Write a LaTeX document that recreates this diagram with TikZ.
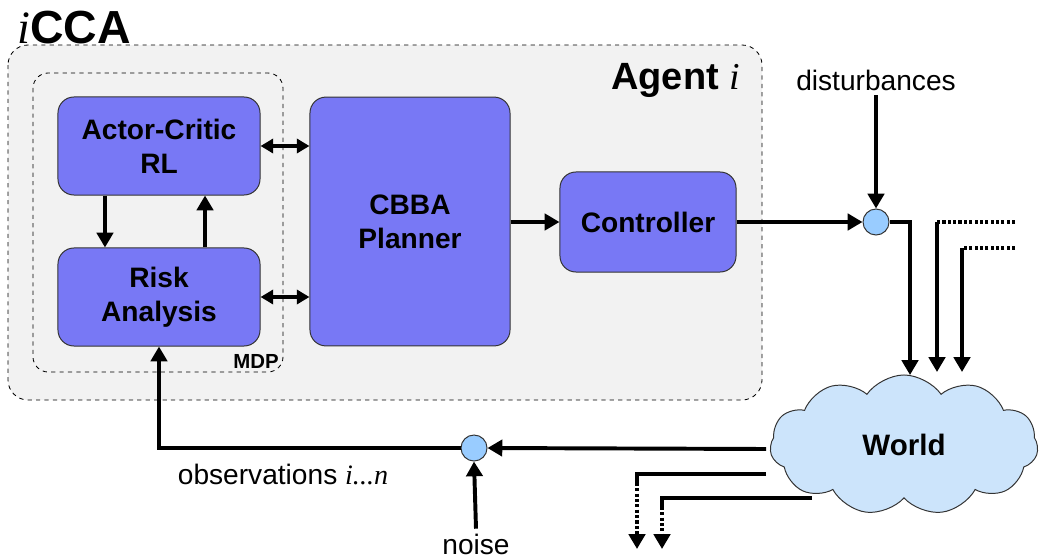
\documentclass[tikz,border=0pt]{standalone}
\usepackage{fontspec}
\setmainfont{Liberation Sans}
\newfontfamily\tms{Liberation Serif}
\usetikzlibrary{arrows.meta,shapes.symbols,calc}
\definecolor{boxblue}{RGB}{120,120,245}
\definecolor{sumblue}{RGB}{153,204,255}
\definecolor{cloudblue}{RGB}{204,228,251}
\definecolor{agentgray}{RGB}{242,242,242}
\tikzset{
  block/.style={draw=black!80,line width=0.7pt,fill=boxblue,rounded corners=0.4cm,
    align=center,font=\fontsize{20}{24}\selectfont\bfseries},
  sumnode/.style={circle,draw=black!80,line width=0.7pt,fill=sumblue,minimum size=0.65cm,inner sep=0pt},
  flow/.style={line width=2.8pt,-{Triangle[length=10.5pt,width=11.5pt]}},
  twoway/.style={line width=2.5pt,{Triangle[length=9pt,width=10pt]}-{Triangle[length=9pt,width=10pt]}},
  dots/.style={line width=2.8pt,dash pattern=on 2.2pt off 1.6pt},
  lbl/.style={font=\fontsize{20}{24}\selectfont}
}
\begin{document}
\begin{tikzpicture}[x=0.025cm,y=-0.025cm]
\useasboundingbox (0,0) rectangle (1040,559);
% Agent and MDP frames
\draw[dashed,line width=0.6pt,fill=agentgray,rounded corners=0.5cm] (8,45) rectangle (762,400);
\draw[dashed,line width=0.6pt,rounded corners=0.38cm] (33,73) rectangle (283,372);
\node (title) at (74,28) {\fontsize{33}{36}\selectfont{\tms\itshape i}\bfseries CCA};
\node[anchor=east] (agent) at (745,80) {\fontsize{27}{30}\selectfont\bfseries Agent {\tms\itshape\mdseries i}};
\node (mdp) at (256,361) {\fontsize{14.5}{16}\selectfont\bfseries MDP};
% Blocks
\node[block,minimum width=5.05cm,minimum height=2.45cm] (actor) at (159,146) {Actor-Critic\\RL};
\node[block,minimum width=5.05cm,minimum height=2.45cm] (risk) at (159,297) {Risk\\Analysis};
\node[block,minimum width=5cm,minimum height=6.22cm] (cbba) at (410,221.5) {CBBA\\Planner};
\node[block,minimum width=4.4cm,minimum height=2.5cm] (ctrl) at (648,222) {Controller};
\node[sumnode] (sum1) at (876,222) {};
\node[sumnode] (sum2) at (474,448) {};
\node[cloud,cloud puffs=11,cloud puff arc=110,aspect=2,draw=black!80,line width=0.7pt,
  fill=cloudblue,minimum width=6.7cm,minimum height=3.5cm,
  font=\fontsize{21}{24}\selectfont\bfseries] (world) at (904,445) {World};
\node[lbl] (dist) at (876,80) {disturbances};
\node[lbl] (noise) at (476,544) {noise};
\node[lbl] (obs) at (283,475) {observations {\tms\itshape i...n}};
% Connections inside the agent
\draw[flow] ([xshift=-1.35cm]actor.south) -- ([xshift=-1.35cm]risk.north);
\draw[flow] ([xshift=1.15cm]risk.north) -- ([xshift=1.15cm]actor.south);
\draw[twoway] (actor.east) -- (actor.east -| cbba.west);
\draw[twoway] (risk.east) -- (risk.east -| cbba.west);
\draw[flow] (cbba.east |- ctrl.west) -- (ctrl.west);
\draw[flow] (ctrl.east) -- (sum1.west);
% Disturbances and world
\draw[flow] (dist.south) -- (sum1.north);
\coordinate (in1) at (910,375);
\coordinate (in2) at (937,372);
\coordinate (in3) at (962,372);
\draw[flow] (sum1.east) -| (in1);
\draw[dots] (1015,222) -- (937,222);
\draw[flow] (937,222) -- (in2);
\draw[dots] (1015,248) -- (962,248);
\draw[flow] (962,248) -- (in3);
% Outputs of the world
\coordinate (out1) at (766,449);
\coordinate (out2) at (766,474);
\coordinate (out3) at (812,498);
\draw[flow] (out1) -- (sum2.east);
\draw[line width=2.8pt] (out2) -- (637,474) -- (637,483);
\draw[dots,-{Triangle[length=10.5pt,width=11.5pt]}] (637,483) -- (637,549);
\draw[line width=2.8pt] (out3) -- (662,498) -- (662,507);
\draw[dots,-{Triangle[length=10.5pt,width=11.5pt]}] (662,507) -- (662,549);
% Observations
\draw[flow] (noise.north) -- (sum2.south);
\draw[flow] (sum2.west) -| (risk.south);
\end{tikzpicture}
\end{document}
